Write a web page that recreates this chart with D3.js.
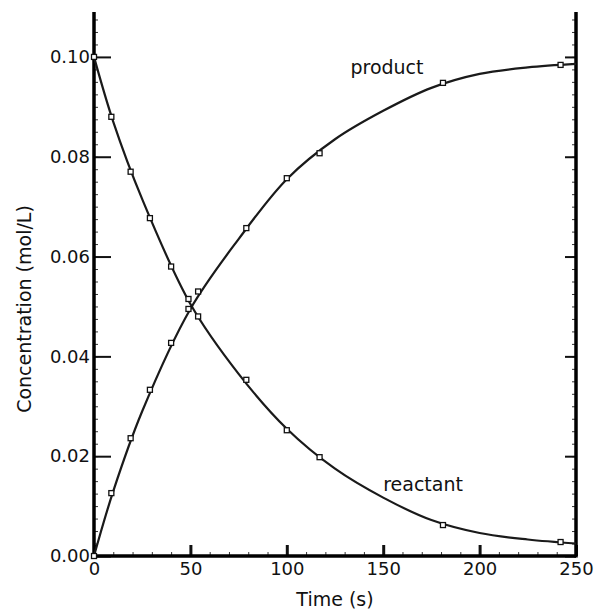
<!DOCTYPE html>
<html lang="en">
<head>
    <meta charset="UTF-8">
    <title>Concentration vs time</title>
    <script src="https://d3js.org/d3.v7.min.js"></script>
    <style>
        body { margin: 0; background: #fff; }
        text { font-family: "DejaVu Sans", sans-serif; fill: #111; }
        .tick text { font-size: 18px; }
        .major line { stroke: #111; stroke-width: 2; }
        .minor line { stroke: #333; stroke-width: 1; }
        .domain { display: none; }
        path.curve { fill: none; stroke: #1a1a1a; stroke-width: 2.2; }
    </style>
</head>
<body>
    <script>
        var times = [0, 9, 19, 29, 40, 49, 54, 79, 100, 117, 181, 242];
        var reactant = [0.100, 0.088, 0.077, 0.0677, 0.058, 0.0515, 0.048, 0.0353, 0.0252, 0.0198, 0.0062, 0.0028];
        var product = [0.000, 0.0126, 0.0236, 0.0333, 0.0427, 0.0495, 0.053, 0.0657, 0.0757, 0.0807, 0.0948, 0.0984];
        // smooth fitted curves
        var fitTimes = [0, 10, 25, 50, 75, 100, 125, 150, 175, 200, 225, 250];
        var reactantFit = [0.100, 0.087, 0.0715, 0.0505, 0.0365, 0.0255, 0.0175, 0.0117, 0.0072, 0.0046, 0.0033, 0.0025];
        var productFit = [0.000, 0.013, 0.029, 0.0495, 0.0635, 0.0755, 0.0835, 0.0892, 0.0938, 0.0966, 0.0979, 0.0986];
        var xTicks = [0, 50, 100, 150, 200, 250];
        var yTicks = [0, 0.02, 0.04, 0.06, 0.08, 0.10];
        var labels = [
            { text: "product", t: 133, c: 0.0965 },
            { text: "reactant", t: 150, c: 0.013 }
        ];

        var width = 596, height = 612;
        var svg = d3.select("body").append("svg")
            .attr("width", width).attr("height", height);

        var x = d3.scaleLinear().domain([0, 250]).range([94, 576]);
        var y = d3.scaleLinear().domain([0, 0.109]).range([556, 12]);

        // minor ticks
        var minorY = d3.range(0, 0.1091, 0.0025);
        svg.append("g").attr("class", "minor")
            .attr("transform", "translate(" + x(0) + ",0)")
            .call(d3.axisLeft(y).tickValues(minorY).tickSize(-4).tickFormat(""));
        svg.append("g").attr("class", "minor")
            .attr("transform", "translate(" + x(250) + ",0)")
            .call(d3.axisRight(y).tickValues(minorY).tickSize(-4).tickFormat(""));
        svg.append("g").attr("class", "minor")
            .attr("transform", "translate(0," + y(0) + ")")
            .call(d3.axisBottom(x).tickValues(d3.range(0, 251, 10)).tickSize(-4).tickFormat(""));

        // major ticks
        svg.append("g").attr("class", "major")
            .attr("transform", "translate(" + x(0) + ",0)")
            .call(d3.axisLeft(y).tickValues(yTicks).tickSize(-17).tickPadding(4).tickFormat(d3.format(".2f")));
        svg.append("g").attr("class", "major")
            .attr("transform", "translate(" + x(250) + ",0)")
            .call(d3.axisRight(y).tickValues(yTicks).tickSize(-11).tickFormat(""));
        var xa = svg.append("g").attr("class", "major")
            .attr("transform", "translate(0," + y(0) + ")")
            .call(d3.axisBottom(x).tickValues(xTicks).tickSize(-11).tickPadding(6).tickFormat(d3.format("d")));
        xa.selectAll("line").style("stroke-width", 3);

        // frame (no top line)
        var frame = svg.append("g").attr("stroke", "#000").attr("stroke-width", 3.5);
        frame.append("line").attr("x1", x(0)).attr("x2", x(0)).attr("y1", y.range()[1]).attr("y2", y(0) + 1.5);
        frame.append("line").attr("x1", x(250)).attr("x2", x(250)).attr("y1", y.range()[1]).attr("y2", y(0) + 1.5);
        frame.append("line").attr("x1", x(0)).attr("x2", x(250)).attr("y1", y(0)).attr("y2", y(0));

        // fitted curves
        var line = d3.line().curve(d3.curveCatmullRom.alpha(0.5))
            .x(function(d) { return x(d[0]); })
            .y(function(d) { return y(d[1]); });
        [reactantFit, productFit].forEach(function(series) {
            svg.append("path").attr("class", "curve").attr("d", line(d3.zip(fitTimes, series)));
        });

        // measured markers
        [reactant, product].forEach(function(series) {
            svg.append("g").selectAll("rect").data(d3.zip(times, series)).enter().append("rect")
                .attr("x", function(d) { return x(d[0]) - 2.5; })
                .attr("y", function(d) { return y(d[1]) - 2.5; })
                .attr("width", 5).attr("height", 5)
                .attr("fill", "#fff").attr("stroke", "#111").attr("stroke-width", 1.3);
        });

        svg.append("g").selectAll("text").data(labels).enter().append("text")
            .attr("x", function(d) { return x(d.t); })
            .attr("y", function(d) { return y(d.c); })
            .attr("font-size", 19)
            .text(function(d) { return d.text; });

        // axis titles
        svg.append("text").attr("x", 335).attr("y", 606)
            .attr("text-anchor", "middle").attr("font-size", 19)
            .text("Time (s)");
        svg.append("text").attr("transform", "translate(31,309) rotate(-90)")
            .attr("text-anchor", "middle").attr("font-size", 19)
            .text("Concentration (mol/L)");
    </script>
</body>
</html>
